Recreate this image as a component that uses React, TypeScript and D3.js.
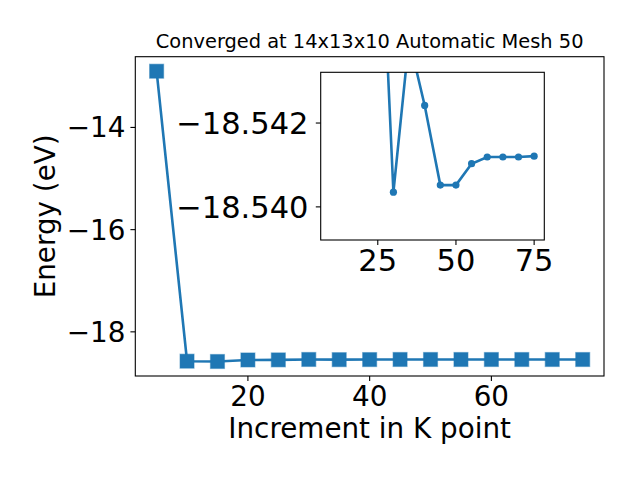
import React from "react";
import * as d3 from "d3";

// k-point increments and total energies (eV)
const kpoints = [5, 10, 15, 20, 25, 30, 35, 40, 45, 50, 55, 60, 65, 70, 75];
const energy = [
  -12.9, -18.574, -18.58, -18.55, -18.5486, -18.54035, -18.544, -18.54242,
  -18.54052, -18.54052, -18.54103, -18.54119, -18.54119, -18.54119, -18.54121,
];
const mainXTicks = [20, 40, 60];
const mainYTicks = [-14, -16, -18];
const insetXTicks = [25, 50, 75];
const insetYTicks = [-18.542, -18.54];

const title = "Converged at 14x13x10 Automatic Mesh 50";
const xLabel = "Increment in K point";
const yLabel = "Energy (eV)";

const blue = "#1f77b4";
const font = "DejaVu Sans, sans-serif";
const minus = (s: string) => s.replace("-", "\u2212");

export default function App() {
  const W = 640, H = 480;
  const m = { left: 135.3, right: 604, top: 56.7, bottom: 376 };

  const pts = kpoints.map((k, i) => ({ x: k, y: energy[i] }));
  const xExt = d3.extent(kpoints) as [number, number];
  const yExt = d3.extent(energy) as [number, number];
  const xPad = (xExt[1] - xExt[0]) * 0.05;
  const yPad = (yExt[1] - yExt[0]) * 0.05;

  const x = d3.scaleLinear().domain([xExt[0] - xPad, xExt[1] + xPad]).range([m.left, m.right]);
  const y = d3.scaleLinear().domain([yExt[0] - yPad, yExt[1] + yPad]).range([m.bottom, m.top]);
  const line = d3.line<{ x: number; y: number }>().x(d => x(d.x)).y(d => y(d.y));

  // inset: points from k=10 on, y axis inverted
  const ins = { left: 320.7, right: 544.3, top: 72.3, bottom: 240 };
  const insPts = pts.slice(1);
  const ixPad = (75 - 10) * 0.05;
  const ix = d3.scaleLinear().domain([10 - ixPad, 75 + ixPad]).range([ins.left, ins.right]);
  const iy = d3.scaleLinear().domain([-18.54321, -18.53921]).range([ins.top, ins.bottom]);
  const iline = d3.line<{ x: number; y: number }>().x(d => ix(d.x)).y(d => iy(d.y));

  const tl = 4.9;
  const fs = 27.8;
  const ifs = 30.5;

  return (
    <svg width={W} height={H} style={{ position: "absolute", left: 0, top: 0 }} fontFamily={font}>
      <rect width={W} height={H} fill="white" />
      <defs>
        <clipPath id="mainClip">
          <rect x={m.left} y={m.top} width={m.right - m.left} height={m.bottom - m.top} />
        </clipPath>
        <clipPath id="insClip">
          <rect x={ins.left} y={ins.top} width={ins.right - ins.left} height={ins.bottom - ins.top} />
        </clipPath>
      </defs>

      {/* main plot */}
      <g clipPath="url(#mainClip)">
        <path d={line(pts) ?? ""} fill="none" stroke={blue} strokeWidth={2.6} />
        {pts.map((p, i) => (
          <rect key={i} x={x(p.x) - 7} y={y(p.y) - 7} width={14} height={14}
            fill={blue} stroke={blue} strokeOpacity={0.45} strokeWidth={1.2} />
        ))}
      </g>
      <rect x={m.left} y={m.top} width={m.right - m.left} height={m.bottom - m.top}
        fill="none" stroke="black" strokeWidth={1.1} />
      {mainXTicks.map(t => (
        <g key={t}>
          <line x1={x(t)} x2={x(t)} y1={m.bottom} y2={m.bottom + tl} stroke="black" strokeWidth={1.1} />
          <text x={x(t)} y={m.bottom + tl + 4.9 + 0.73 * fs} textAnchor="middle" fontSize={fs}>{minus(String(t))}</text>
        </g>
      ))}
      {mainYTicks.map(t => (
        <g key={t}>
          <line x1={m.left - tl} x2={m.left} y1={y(t)} y2={y(t)} stroke="black" strokeWidth={1.1} />
          <text x={m.left - tl - 4.9} y={y(t)} dy="0.36em" textAnchor="end" fontSize={fs}>{minus(String(t))}</text>
        </g>
      ))}
      <text x={(m.left + m.right) / 2} y={438} textAnchor="middle" fontSize={fs}>{xLabel}</text>
      <text transform={`translate(55,${(m.top + m.bottom) / 2}) rotate(-90)`} textAnchor="middle" fontSize={fs}>{yLabel}</text>
      <text x={(m.left + m.right) / 2} y={48} textAnchor="middle" fontSize={19.4}>{title}</text>

      {/* inset */}
      <rect x={ins.left} y={ins.top} width={ins.right - ins.left} height={ins.bottom - ins.top} fill="white" />
      <g clipPath="url(#insClip)">
        <path d={iline(insPts) ?? ""} fill="none" stroke={blue} strokeWidth={2.6} />
        {insPts.map((p, i) => (
          <circle key={i} cx={ix(p.x)} cy={iy(p.y)} r={3.6} fill={blue} />
        ))}
      </g>
      <rect x={ins.left} y={ins.top} width={ins.right - ins.left} height={ins.bottom - ins.top}
        fill="none" stroke="black" strokeWidth={1.1} />
      {insetXTicks.map(t => (
        <g key={t}>
          <line x1={ix(t)} x2={ix(t)} y1={ins.bottom} y2={ins.bottom + tl} stroke="black" strokeWidth={1.1} />
          <text x={ix(t)} y={271} textAnchor="middle" fontSize={ifs}>{String(t)}</text>
        </g>
      ))}
      {insetYTicks.map(t => (
        <g key={t}>
          <line x1={ins.left - tl} x2={ins.left} y1={iy(t)} y2={iy(t)} stroke="black" strokeWidth={1.1} />
          <text x={ins.left - 12.2} y={iy(t)} dy="0.36em" textAnchor="end" fontSize={ifs}>{minus(d3.format(".3f")(t))}</text>
        </g>
      ))}
    </svg>
  );
}
